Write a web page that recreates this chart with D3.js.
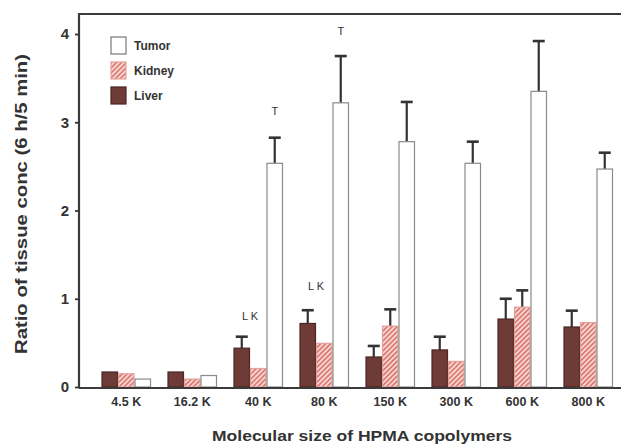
<!DOCTYPE html>
<html><head><meta charset="utf-8">
<script src="https://cdn.jsdelivr.net/npm/d3@7"></script>
<style>body{margin:0;background:#fff}svg{display:block}</style>
</head><body><div id="c"></div>
<script>
const categories = ["4.5 K","16.2 K","40 K","80 K","150 K","300 K","600 K","800 K"];
const series = ["Liver","Kidney","Tumor"];
const liver    = [0.17,0.17,0.44,0.72,0.34,0.42,0.77,0.68];
const liverErr = [null,null,0.57,0.87,0.465,0.57,1.0,0.865];
const kidney   = [0.15,0.09,0.21,0.495,0.69,0.29,0.905,0.73];
const kidneyErr= [null,null,null,null,0.88,null,1.095,null];
const tumor    = [0.09,0.13,2.535,3.22,2.78,2.535,3.35,2.47];
const tumorErr = [null,null,2.825,3.75,3.23,2.78,3.92,2.655];
const yTicks = [0,1,2,3,4];
const legendOrder = ["Tumor","Kidney","Liver"];
const annotations = [
  {cat:"40 K", series:"Tumor", text:"T", value:3.08},
  {cat:"80 K", series:"Tumor", text:"T", value:3.99},
  {cat:"40 K", series:"Kidney", text:"L K", value:0.76},
  {cat:"80 K", series:"Kidney", text:"L K", value:1.10}
];
const yTitle = "Ratio of tissue conc (6 h/5 min)";
const xTitle = "Molecular size of HPMA copolymers";

(function(){
const FONT="Arial, 'Liberation Sans', sans-serif";
const INK="#333333";
const W=621,H=447;
const svg=d3.select("#c").append("svg").attr("width",W).attr("height",H);
const defs=svg.append("defs");
const pat=defs.append("pattern").attr("id","hatch").attr("patternUnits","userSpaceOnUse")
  .attr("width",3.5).attr("height",3.5).attr("patternTransform","rotate(45)");
pat.append("rect").attr("width",3.5).attr("height",3.5).attr("fill","#f7d6d2");
pat.append("rect").attr("width",1.6).attr("height",3.5).attr("fill","#d9746c");

const mLeft=79, mTop=14, mBottom=388;
const y=d3.scaleLinear().domain([0,4]).range([387,34]);
const x=d3.scaleBand().domain(categories).range([93.25,621.25]).paddingInner(0.25).paddingOuter(0.125);
const xs=d3.scaleBand().domain(series).range([0,x.bandwidth()]);

const fills={Liver:"#6e3b36",Kidney:"url(#hatch)",Tumor:"#ffffff"};
const strokes={Liver:"#4a2624",Kidney:"#e3a39c",Tumor:"#8a8a8a"};
const vals={Liver:liver,Kidney:kidney,Tumor:tumor};
const errs={Liver:liverErr,Kidney:kidneyErr,Tumor:tumorErr};

const data=[];
categories.forEach((c,i)=>series.forEach(s=>data.push({c,s,v:vals[s][i],e:errs[s][i]})));

const eb=svg.append("g").attr("stroke","#333").attr("stroke-width",2.2);
data.filter(d=>d.e!=null).forEach(d=>{
  const cx=x(d.c)+xs(d.s)+xs.bandwidth()/2;
  eb.append("line").attr("x1",cx).attr("x2",cx).attr("y1",y(d.v)).attr("y2",y(d.e));
  eb.append("line").attr("x1",cx-6).attr("x2",cx+6).attr("y1",y(d.e)).attr("y2",y(d.e)).attr("stroke-width",2.6);
});

svg.append("g").selectAll("rect").data(data).join("rect")
  .attr("x",d=>x(d.c)+xs(d.s)+0.5).attr("width",xs.bandwidth()-1)
  .attr("y",d=>y(d.v)).attr("height",d=>y(0)-y(d.v))
  .attr("fill",d=>fills[d.s]).attr("stroke",d=>strokes[d.s]).attr("stroke-width",1.2);

svg.append("path").attr("d",`M${mLeft},${mBottom}V${mTop}H${W+5}`).attr("fill","none").attr("stroke","#3a3a3a").attr("stroke-width",2.2);
svg.append("line").attr("x1",mLeft).attr("x2",W).attr("y1",mBottom).attr("y2",mBottom).attr("stroke","#3a3a3a").attr("stroke-width",2.2);

const ya=svg.append("g").attr("transform",`translate(${mLeft},0)`)
  .call(d3.axisLeft(y).tickValues(yTicks).tickFormat(d3.format("d")).tickSize(4).tickPadding(6));
ya.select(".domain").remove();
ya.selectAll("line").attr("stroke","#333").attr("stroke-width",1.8);
ya.selectAll("text").attr("font-family",FONT).attr("font-weight","bold").attr("font-size",15).attr("fill",INK);

const xa=svg.append("g").attr("transform",`translate(0,${mBottom})`)
  .call(d3.axisBottom(x).tickSize(0).tickPadding(9));
xa.select(".domain").remove();
xa.selectAll("text").attr("font-family",FONT).attr("font-weight","bold").attr("font-size",12.5).attr("fill",INK);

svg.append("g").selectAll("text").data(annotations).join("text")
  .attr("x",d=>d.text==="T"?x(d.cat)+xs(d.series)+xs.bandwidth()/2:x(d.cat)+xs("Liver")+xs.bandwidth())
  .attr("y",d=>y(d.value)).attr("text-anchor","middle")
  .attr("font-family",FONT).attr("font-size",11).attr("fill",INK)
  .text(d=>d.text);

const lg=svg.append("g").attr("transform","translate(111,37)");
legendOrder.forEach((s,i)=>{
  const g=lg.append("g").attr("transform",`translate(0,${i*25})`);
  g.append("rect").attr("width",15).attr("height",17).attr("fill",fills[s]).attr("stroke",s==="Tumor"?"#777":strokes[s]).attr("stroke-width",1.2);
  g.append("text").attr("x",23).attr("y",13).attr("font-family",FONT).attr("font-weight","bold").attr("font-size",12).attr("fill",INK).text(s);
});

svg.append("text").attr("x",362).attr("y",441).attr("text-anchor","middle")
  .attr("font-family",FONT).attr("font-weight","bold").attr("font-size",15).attr("fill",INK)
  .attr("textLength",300).attr("lengthAdjust","spacingAndGlyphs").text(xTitle);
svg.append("text").attr("transform","translate(27,204) rotate(-90)").attr("text-anchor","middle")
  .attr("font-family",FONT).attr("font-weight","bold").attr("font-size",16).attr("fill",INK)
  .attr("textLength",300).attr("lengthAdjust","spacingAndGlyphs").text(yTitle);
})();
</script></body></html>
